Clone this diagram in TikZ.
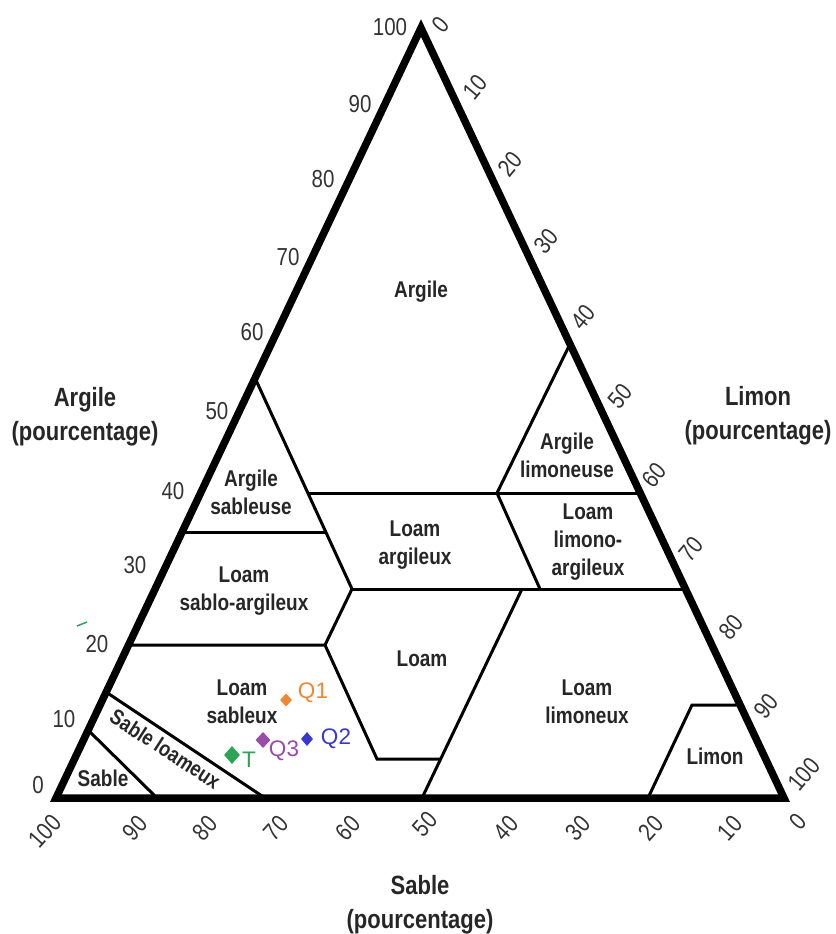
\documentclass[tikz,border=0pt]{standalone}
\usepackage{fontspec}
\setmainfont{Liberation Sans}
\usepackage{graphicx}
\usetikzlibrary{shapes.geometric}
\definecolor{qorange}{RGB}{240,135,50}
\definecolor{qblue}{RGB}{55,55,215}
\definecolor{qpurple}{RGB}{155,75,170}
\definecolor{qgreen}{RGB}{40,165,85}
% text is drawn a little taller than wide, as in the original chart
\newcommand{\tallbox}[1]{\scalebox{1}[1.2]{\begin{tabular}{@{}c@{}}#1\end{tabular}}}
\tikzset{
  % The outer triangle
  triframe/.style={line width=7.5pt, line join=miter},
  % The borders between classes
  classline/.style={line width=3pt, line join=miter},
  % Names of the classes
  classname/.style={font=\fontsize{19}{23}\selectfont\bfseries, text=black!85, inner sep=0pt},
  axistitle/.style={font=\fontsize{22}{28}\selectfont\bfseries, text=black!85, inner sep=0pt},
  ticklabel/.style={font=\fontsize{20.5}{24}\selectfont, text=black!80, inner sep=0pt},
  % The samples
  samplept/.style={diamond, fill=#1, inner sep=0pt},
  samplelabel/.style={font=\fontsize{22.5}{24}\selectfont, text=#1, inner sep=0pt}
}
\begin{document}
\begin{tikzpicture}[x=1pt, y=-1pt]
\useasboundingbox (0,0) rectangle (835,934);
\coordinate (sa) at (56,798);
\coordinate (li) at (784,798);
\coordinate (ar) at (421,28);
% Draw class borders
\draw[classline] (88,730) -- (157,798);
\draw[classline] (106,692) -- (265,798);
\draw[classline] (128,645) -- (325,645) -- (377,759) -- (440,759);
\draw[classline] (325,645) -- (352,589) -- (255,378);
\draw[classline] (182,532) -- (326,532);
\draw[classline] (308,493) -- (640,493);
\draw[classline] (497,493) -- (570,344);
\draw[classline] (497,493) -- (540,589);
\draw[classline] (352,589) -- (685,589);
\draw[classline] (522,589) -- (422,798);
\draw[classline] (648,798) -- (692,705) -- (740,705);
\draw[triframe] (sa) -- (li) -- (ar) -- cycle;
% Class names
\node[classname] (argile) at (421,292) {\tallbox{Argile}};
\node[classname] (argsab) at (251,495) {\tallbox{Argile\\sableuse}};
\node[classname] (arglim) at (567,458) {\tallbox{Argile\\limoneuse}};
\node[classname] (loamarg) at (415,545) {\tallbox{Loam\\argileux}};
\node[classname] (loamlimarg) at (588,542) {\tallbox{Loam\\limono-\\argileux}};
\node[classname] (loamsabarg) at (244,591) {\tallbox{Loam\\sablo-argileux}};
\node[classname] (loam) at (422,661) {\tallbox{Loam}};
\node[classname] (loamsab) at (242,704) {\tallbox{Loam\\sableux}};
\node[classname] (loamlim) at (587,704) {\tallbox{Loam\\limoneux}};
\node[classname] (limon) at (715,759) {\tallbox{Limon}};
\node[classname] (sable) at (103,781) {\tallbox{Sable}};
\node[classname, rotate=-33, scale=0.95] (sableloam) at (164,751) {\tallbox{Sable loameux}};
% Axis titles
\node[axistitle] (titarg) at (85,417) {\tallbox{Argile\\(pourcentage)}};
\node[axistitle] (titlim) at (758,416) {\tallbox{Limon\\(pourcentage)}};
\node[axistitle] (titsab) at (420,905) {\tallbox{Sable\\(pourcentage)}};
% Clay scale
\node[ticklabel] (c0) at (38,788) {\tallbox{0}};
\node[ticklabel] (c10) at (64,722) {\tallbox{10}};
\node[ticklabel] (c20) at (97,647) {\tallbox{20}};
\node[ticklabel] (c30) at (135,568) {\tallbox{30}};
\node[ticklabel] (c40) at (173,494) {\tallbox{40}};
\node[ticklabel] (c50) at (217,414) {\tallbox{50}};
\node[ticklabel] (c60) at (252,335) {\tallbox{60}};
\node[ticklabel] (c70) at (288,260) {\tallbox{70}};
\node[ticklabel] (c80) at (323,182) {\tallbox{80}};
\node[ticklabel] (c90) at (360,107) {\tallbox{90}};
\node[ticklabel] (c100) at (390,30) {\tallbox{100}};
% Silt scale
\node[ticklabel, rotate=50] (l0) at (443,26) {\tallbox{0}};
\node[ticklabel, rotate=50] (l10) at (477,89) {\tallbox{10}};
\node[ticklabel, rotate=50] (l20) at (512,166) {\tallbox{20}};
\node[ticklabel, rotate=50] (l30) at (548,243) {\tallbox{30}};
\node[ticklabel, rotate=50] (l40) at (585,319) {\tallbox{40}};
\node[ticklabel, rotate=50] (l50) at (622,398) {\tallbox{50}};
\node[ticklabel, rotate=50] (l60) at (656,477) {\tallbox{60}};
\node[ticklabel, rotate=50] (l70) at (693,551) {\tallbox{70}};
\node[ticklabel, rotate=50] (l80) at (733,629) {\tallbox{80}};
\node[ticklabel, rotate=50] (l90) at (768,708) {\tallbox{90}};
\node[ticklabel, rotate=50] (l100) at (806,776) {\tallbox{100}};
% Sand scale
\node[ticklabel, rotate=48] (s100) at (47,833) {\tallbox{100}};
\node[ticklabel, rotate=48] (s90) at (137,830) {\tallbox{90}};
\node[ticklabel, rotate=48] (s80) at (207,830) {\tallbox{80}};
\node[ticklabel, rotate=48] (s70) at (278,830) {\tallbox{70}};
\node[ticklabel, rotate=48] (s60) at (350,830) {\tallbox{60}};
\node[ticklabel, rotate=48] (s50) at (427,826) {\tallbox{50}};
\node[ticklabel, rotate=48] (s40) at (508,830) {\tallbox{40}};
\node[ticklabel, rotate=48] (s30) at (580,830) {\tallbox{30}};
\node[ticklabel, rotate=48] (s20) at (653,830) {\tallbox{20}};
\node[ticklabel, rotate=48] (s10) at (732,830) {\tallbox{10}};
\node[ticklabel, rotate=48] (s0) at (800,823) {\tallbox{0}};
% Samples
\node[samplept=qorange, minimum width=12pt, minimum height=13pt] (q1) at (286,700) {};
\node[samplept=qblue, minimum width=12pt, minimum height=14pt] (q2) at (307,739) {};
\node[samplept=qpurple, minimum width=15pt, minimum height=16pt] (q3) at (263,740) {};
\node[samplept=qgreen, minimum width=16pt, minimum height=18pt] (t) at (232,755) {};
\node[samplelabel=qorange] (q1lbl) at (313,693) {Q1};
\node[samplelabel=qblue] (q2lbl) at (336,739) {Q2};
\node[samplelabel=qpurple] (q3lbl) at (284,751) {Q3};
\node[samplelabel=qgreen] (tlbl) at (249,760) {T};
\draw[qgreen, line width=1.5pt] (77,626) -- (87,622);
\end{tikzpicture}
\end{document}
